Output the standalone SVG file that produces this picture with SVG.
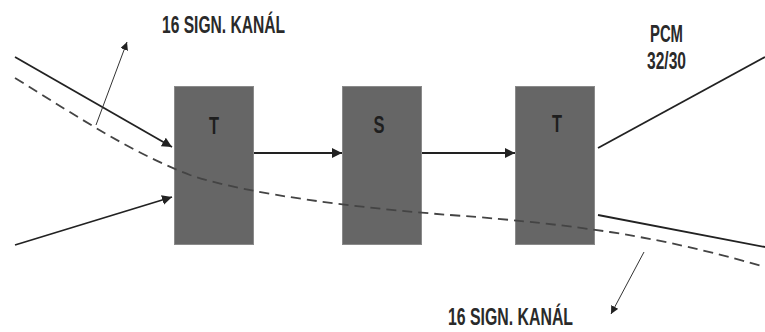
<svg xmlns="http://www.w3.org/2000/svg" width="765" height="332" viewBox="0 0 765 332">
  <defs>
    <marker id="arr" viewBox="0 0 10 10" refX="10" refY="5" markerWidth="10" markerHeight="10" markerUnits="userSpaceOnUse" orient="auto">
      <path d="M0,0 L10,5 L0,10 Z" fill="#222"/>
    </marker>
    <marker id="arrSmall" viewBox="0 0 10 10" refX="10" refY="5" markerWidth="8" markerHeight="8" markerUnits="userSpaceOnUse" orient="auto">
      <path d="M0,0 L10,5 L0,10 Z" fill="#222"/>
    </marker>
    <style>
      .box { fill: #666666; stroke: #8a8a8a; stroke-width: 1; }
      .lbl { font-family: "Liberation Sans", Arial, sans-serif; font-weight: bold; fill: #2a2a2a; }
      .node-lbl { font-family: "Liberation Sans", Arial, sans-serif; font-weight: bold; fill: #1e1e1e; font-size: 24px; }
      .wire { stroke: #222; stroke-width: 1.8; fill: none; }
      .thin { stroke: #333; stroke-width: 1; fill: none; }
      .dash { stroke: #444; stroke-width: 1.8; fill: none; stroke-dasharray: 10 6; }
    </style>
  </defs>

  <rect width="765" height="332" fill="#ffffff"/>

  <!-- switching stages -->
  <g id="t-stage-in">
    <rect class="box" x="174.5" y="86.5" width="79" height="158"/>
    <text class="node-lbl" x="214" y="134" text-anchor="middle" textLength="10" lengthAdjust="spacingAndGlyphs">T</text>
  </g>
  <g id="s-stage">
    <rect class="box" x="342.5" y="86.5" width="79" height="158"/>
    <text class="node-lbl" x="379" y="133" text-anchor="middle" textLength="11" lengthAdjust="spacingAndGlyphs">S</text>
  </g>
  <g id="t-stage-out">
    <rect class="box" x="515.5" y="86.5" width="79" height="158"/>
    <text class="node-lbl" x="557" y="132" text-anchor="middle" textLength="10" lengthAdjust="spacingAndGlyphs">T</text>
  </g>

  <!-- connectors -->
  <g id="connectors">
    <line class="wire" x1="15" y1="57" x2="172" y2="147" marker-end="url(#arr)"/>
    <line class="wire" x1="15" y1="245" x2="172" y2="197" marker-end="url(#arr)"/>
    <line class="wire" x1="254" y1="153" x2="342" y2="153" marker-end="url(#arr)"/>
    <line class="wire" x1="422" y1="153" x2="515" y2="153" marker-end="url(#arr)"/>
    <line class="wire" x1="598" y1="148" x2="765" y2="57"/>
    <line class="wire" x1="598" y1="215" x2="765" y2="247"/>
    <path class="dash" d="M15,78 C80,118 130,152 190,175 C250,195 360,208 450,215 C520,220 570,226 610,232 C680,243 730,257 765,267"/>
    <line class="thin" x1="96" y1="125" x2="127" y2="42" marker-end="url(#arrSmall)"/>
    <line class="thin" x1="644" y1="252" x2="611" y2="314" marker-end="url(#arrSmall)"/>
  </g>

  <!-- labels -->
  <text class="lbl" x="162" y="33" font-size="23" textLength="123" lengthAdjust="spacingAndGlyphs">16 SIGN. KANÁL</text>
  <text class="lbl" x="448" y="325" font-size="23" textLength="125" lengthAdjust="spacingAndGlyphs">16 SIGN. KANÁL</text>
  <text class="lbl" x="666.5" y="42" font-size="23" text-anchor="middle" textLength="33" lengthAdjust="spacingAndGlyphs">PCM</text>
  <text class="lbl" x="666.5" y="69" font-size="23" text-anchor="middle" textLength="39" lengthAdjust="spacingAndGlyphs">32/30</text>
</svg>
